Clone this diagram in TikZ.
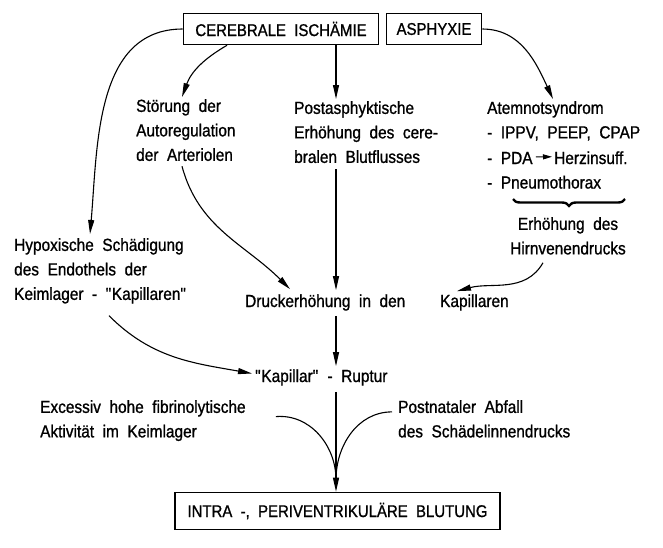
\documentclass[tikz,border=0pt]{standalone}
\usepackage{fontspec}
\setmainfont{Liberation Sans}[WordSpace=2,FakeStretch=0.88,FakeBold=1]
\usetikzlibrary{arrows.meta,decorations.pathreplacing,calc}
\begin{document}
\begin{tikzpicture}[x=1pt,y=-1pt,font=\fontsize{17.5}{24.5}\selectfont,
    box/.style={draw,line width=1.6pt,inner xsep=4pt,font=\fontsize{17}{20}\selectfont},
    txt/.style={inner sep=0pt,align=left},
    arr/.style={line width=1.1pt,-{Triangle[length=14pt,width=6pt]}},
    lin/.style={line width=1.1pt}]
			\useasboundingbox (0,0) rectangle (663,547);
			\coordinate (axis) at (336,0);
			\node[box,minimum width=195pt,minimum height=31pt] (isch) at (281,29) {CEREBRALE ISCHÄMIE};
			\node[box,minimum width=95pt,minimum height=31pt] (asph) at (434,29) {ASPHYXIE};
			\node[txt,anchor=north west] (auto) at (136,99) {Störung der\\Autoregulation\\der Arteriolen};
			\node[txt,anchor=north west] (flow) at (294,101) {Postasphyktische\\Erhöhung des cere-\\bralen Blutflusses};
			\node[txt,anchor=north west] (atem) at (487,101) {Atemnotsyndrom\\- IPPV, PEEP, CPAP};
			\node[txt,anchor=base west] (pda) at (487,164) {- PDA};
			\node[txt,anchor=base west] (herz) at (554,164) {Herzinsuff.};
			\node[txt,anchor=base west] (pneu) at (487,188.5) {- Pneumothorax};
			\draw[line width=2.4pt,decorate,decoration={brace,mirror,amplitude=7pt}] (513,199) -- (625,199);
			\node[txt,align=center,anchor=north] (venen) at (568,217) {Erhöhung des\\Hirnvenendrucks};
			\node[txt,anchor=north west] (hypo) at (14,238) {Hypoxische Schädigung\\des Endothels der\\Keimlager - \textquotedbl Kapillaren\textquotedbl};
			\node[txt,anchor=base west] (druck) at (245,307) {Druckerhöhung in den};
			\node[txt,anchor=base west] (kap) at (440,307) {Kapillaren};
			\node[txt,anchor=base west] (rupt) at (255,382) {\textquotedbl Kapillar\textquotedbl\ - Ruptur};
			\node[txt,anchor=north west] (exc) at (40,400) {Excessiv hohe fibrinolytische\\Aktivität im Keimlager};
			\node[txt,anchor=north west] (post) at (398,400) {Postnataler Abfall\\des Schädelinnendrucks};
			\node[box,minimum width=325pt,minimum height=37pt] (blut) at (337.5,511) {INTRA -, PERIVENTRIKULÄRE BLUTUNG};
			\draw[arr] (isch.west) to[out=180,in=85] ([xshift=76pt,yshift=4pt]hypo.north west);
			\draw[arr] ([xshift=-54pt]isch.south) to[out=210,in=70] ([xshift=46pt,yshift=2pt]auto.north west);
			\draw[arr] (isch.south -| axis) -- ([yshift=2pt]flow.north -| axis);
			\draw[arr] (asph.east) to[out=0,in=115] ([xshift=66pt,yshift=2pt]atem.north west);
			\draw[line width=1pt,-{Triangle[length=9pt,width=5pt]}] ([xshift=3pt,yshift=1pt]pda.east) -- ([xshift=-2pt,yshift=1pt]herz.west);
			\draw[arr] ([xshift=46pt,yshift=-5pt]auto.south west) to[out=-75,in=135] ([xshift=45pt,yshift=5pt]druck.north west);
			\draw[arr] ([yshift=-6pt]flow.south -| axis) -- ([yshift=4pt]druck.north -| axis);
			\draw[arr] ([xshift=-25pt,yshift=-8pt]venen.south) to[out=-120,in=15] ([xshift=17pt,yshift=3pt]kap.north west);
			\draw[arr] ([xshift=95pt,yshift=-12pt]hypo.south west) to[out=-45,in=170] ([xshift=-3pt,yshift=4pt]rupt.west);
			\draw[arr] ([yshift=-5pt]druck.south -| axis) -- ([yshift=3pt]rupt.north -| axis);
			\draw[arr] ([yshift=-6pt]rupt.south -| axis) -- (blut.north -| axis);
			\draw[lin] ([xshift=30pt,yshift=4pt]exc.east) to[out=5,in=90] ([yshift=12pt]blut.north -| axis);
			\draw[lin] ([xshift=-6pt,yshift=7pt]post.west) to[out=180,in=90] ([yshift=12pt]blut.north -| axis);
\end{tikzpicture}
\end{document}
